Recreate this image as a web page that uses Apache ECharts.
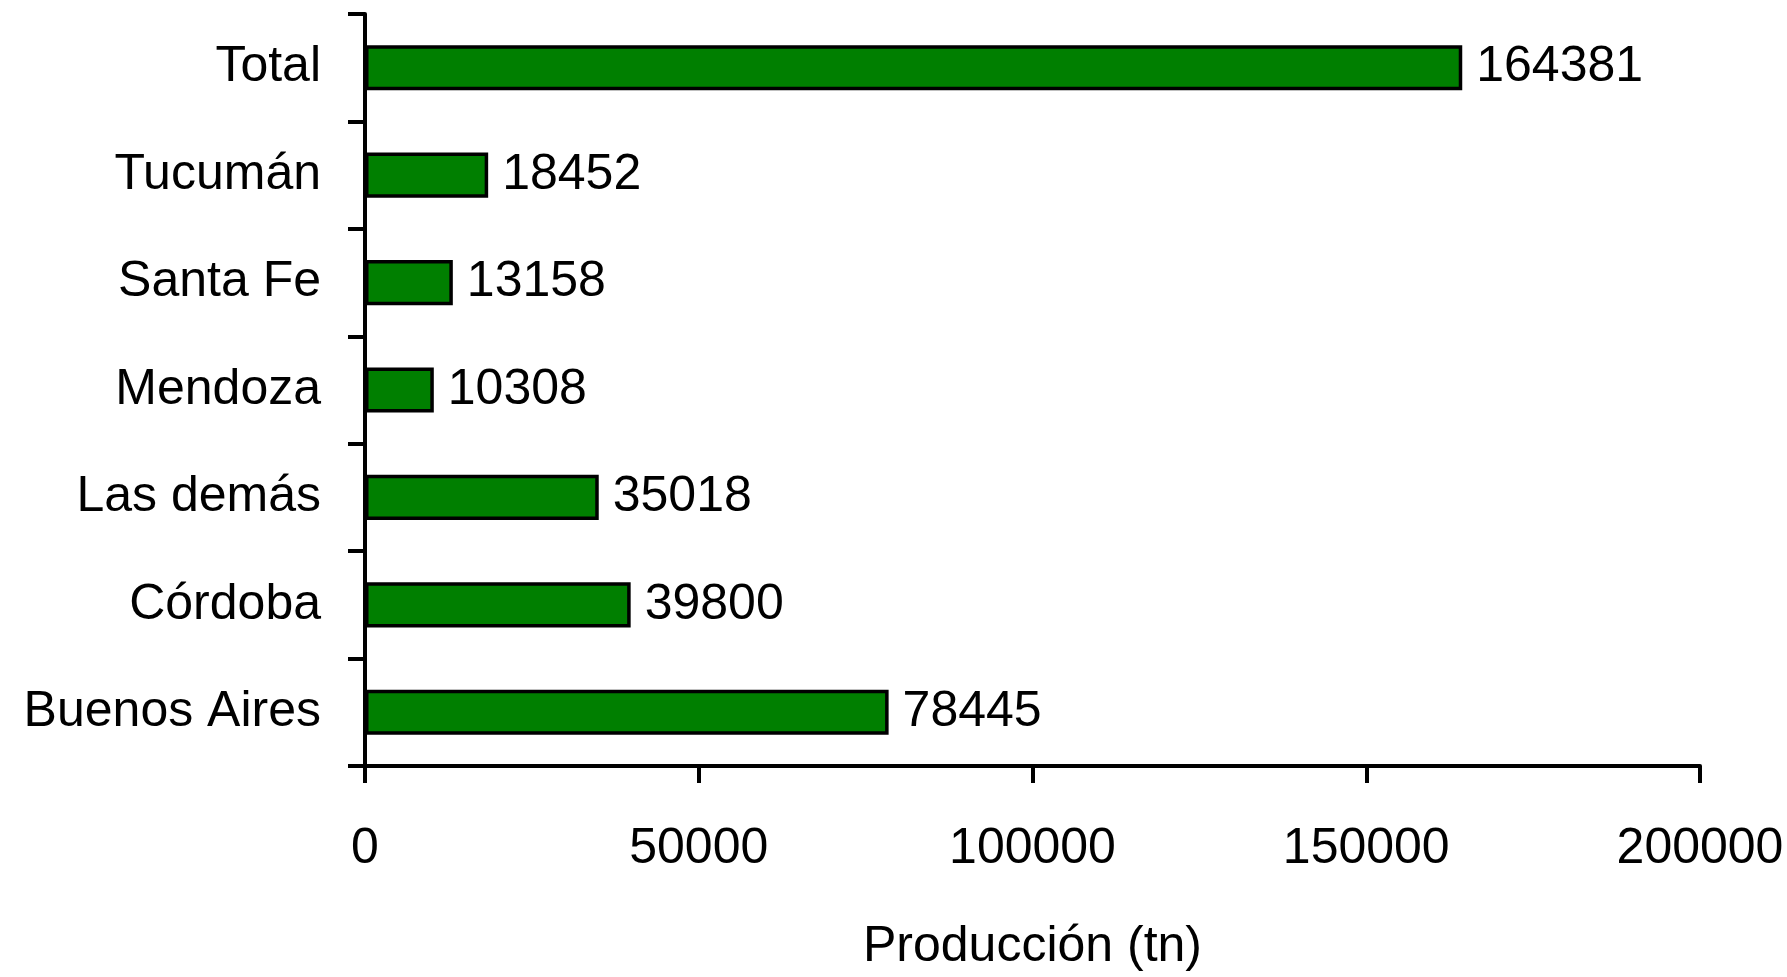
<!DOCTYPE html>
<html>
<head>
<meta charset="utf-8">
<script src="https://cdn.jsdelivr.net/npm/echarts@6/dist/echarts.min.js"></script>
<style>
    html, body { margin: 0; padding: 0; background: #fff; }
    #chart_main { width: 1787px; height: 977px; }
</style>
</head>
<body>
<div id="chart_main"></div>
<script>
// datos (de abajo hacia arriba, como los dibuja el eje de categorías)
var provincias = ['Buenos Aires', 'Córdoba', 'Las demás', 'Mendoza', 'Santa Fe', 'Tucumán', 'Total'];
var produccion = [78445, 39800, 35018, 10308, 13158, 18452, 164381];
var ticksX = [0, 50000, 100000, 150000, 200000];

var fuente = '"Liberation Sans", Arial, sans-serif';
var tamano = 50;

var myChart = echarts.init(document.getElementById('chart_main'));

var option = {
    animation: false,
    backgroundColor: '#ffffff',
    grid: {
        left: 365,
        right: 87,
        top: 14,
        bottom: 211,
        containLabel: false,
        outerBoundsMode: 'none'
    },
    xAxis: {
        type: 'value',
        min: ticksX[0],
        max: ticksX[ticksX.length - 1],
        interval: ticksX[1] - ticksX[0],
        name: 'Producción (tn)',
        nameLocation: 'middle',
        nameGap: 156,
        nameTextStyle: { color: '#000', fontFamily: fuente, fontSize: tamano },
        axisLine: { show: true, lineStyle: { color: '#000', width: 4 } },
        axisTick: { show: true, length: 17, lineStyle: { color: '#000', width: 4 } },
        splitLine: { show: false },
        axisLabel: {
            color: '#000', fontFamily: fuente, fontSize: tamano, margin: 58,
            formatter: function (v) { return String(v); }
        }
    },
    yAxis: {
        type: 'category',
        data: provincias,
        axisLine: { show: true, lineStyle: { color: '#000', width: 4 } },
        axisTick: { show: true, length: 17, lineStyle: { color: '#000', width: 4 } },
        axisLabel: { color: '#000', fontFamily: fuente, fontSize: tamano, margin: 44 }
    },
    series: [
        {
            type: 'bar',
            data: produccion,
            barCategoryGap: '58%',
            itemStyle: { color: '#007f00', borderColor: '#000', borderWidth: 3.5 },
            label: {
                show: true,
                position: 'right',
                distance: 14,
                color: '#000',
                fontFamily: fuente,
                fontSize: tamano
            }
        }
    ]
};

myChart.setOption(option);
</script>
</body>
</html>
